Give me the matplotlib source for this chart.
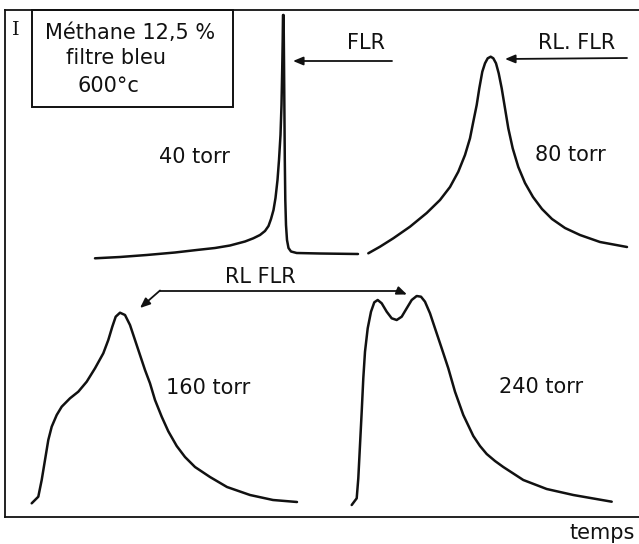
import matplotlib
matplotlib.use("Agg")
import matplotlib.pyplot as plt
from matplotlib.patches import Rectangle

W, H = 639, 544
DPI = 100

# ---- traced emission profiles (time in arbitrary units, signal in arbitrary units) ----
t_40 = [5, 30, 56.7, 85, 106.7, 125, 140, 155, 163.3, 170, 175, 178.5, 181, 183.5,
        185.5, 187.5, 189, 190.5, 191.5, 192.2, 192.7, 193,
        193.6, 194, 194.4, 194.8, 195.3, 196, 197, 198.5, 201, 206.7, 230, 268]
s_40 = [3.7, 5, 7, 9.5, 12, 14, 16.5, 20.5, 23.7, 27, 31, 36, 43, 52,
        64, 82, 102, 127, 157, 192, 222, 247,
        247, 202, 152, 102, 62, 37, 22, 14, 10.5, 9, 8.5, 8]

t_80 = [3.3, 15, 28.3, 45, 61.7, 75, 85, 93.3, 100, 105, 108.3, 111.7, 114.3, 117.3,
        120, 122.7, 125.7, 128.3, 131, 133.7, 136.7, 140, 143.3, 147.7, 153.3, 160,
        168, 177, 187, 200, 215, 235, 262]
s_80 = [8.7, 15.3, 23.7, 35.3, 49, 62, 75, 90.3, 107, 123.7, 140.3, 157, 173.7,
        190.3, 198.7, 203.7, 205.3, 203.7, 198.7, 188.7, 173.7, 153.7, 133.7, 113.7,
        95, 79, 65, 53, 43, 34, 27, 20, 15]

t_160 = [6.7, 13.3, 16.7, 20, 23.3, 26.7, 31.7, 36.7, 45, 53.3, 61.7, 70, 78.3, 83.3,
         87.3, 90.7, 95, 100, 105, 110, 115, 120, 125, 130, 136.7, 143.3, 151.7,
         160, 170, 185, 202, 225, 248, 272]
s_160 = [8.7, 15.3, 32, 52, 72, 85.3, 97, 105.3, 113.7, 120.3, 130.3, 143.7, 158.7,
         172, 185.3, 195.3, 199.3, 197, 187, 172, 157, 142, 128.7, 112, 95.3, 80.7,
         66, 55, 45, 35, 25, 17, 12, 10]

t_240 = [11.7, 16.7, 18.3, 20, 21.7, 23.3, 25, 27.7, 31, 34.3, 37.7, 41.7, 46.7, 51.7,
         56.7, 61.7, 66.7, 71.7, 76.7, 81, 85, 90, 95, 101.7, 108.3, 115, 123.3,
         133.3, 140, 146.7, 155, 163.3, 183.3, 206.7, 233.3, 271.7]
s_240 = [7, 13.7, 33.7, 67, 100.3, 133.7, 160.3, 183.7, 200.3, 209.7, 212, 208.7,
         200.3, 193.7, 192, 195.3, 203.7, 212, 216, 215.3, 210.3, 198.7, 183.7, 163.7,
         143.7, 120.3, 97, 76, 66, 58, 51, 45, 32, 23, 17, 10.3]

pressures = ["40 torr", "80 torr", "160 torr", "240 torr"]

FONT = "DejaVu Sans"
INK = "#111111"

fig = plt.figure(figsize=(W / DPI, H / DPI), dpi=DPI)


def panel(left, top, width, height):
    """Axes placed in pixel units, 1 data unit = 1 pixel."""
    ax = fig.add_axes([left / W, 1 - (top + height) / H, width / W, height / H])
    ax.set_xlim(0, width)
    ax.set_ylim(0, height)
    ax.axis("off")
    return ax


panels = [
    (panel(90, 10, 275, 252), t_40, s_40),
    (panel(365, 10, 272, 252), t_80, s_80),
    (panel(25, 280, 290, 232), t_160, s_160),
    (panel(340, 280, 290, 232), t_240, s_240),
]
for ax, t, s in panels:
    ax.plot(t, s, color=INK, lw=1.8, solid_joinstyle="round", solid_capstyle="round")

# overlay for frame, labels and arrows (pixel coordinates, y downwards)
ov = fig.add_axes([0, 0, 1, 1], zorder=5)
ov.set_xlim(0, W)
ov.set_ylim(H, 0)
ov.axis("off")
ov.patch.set_alpha(0)

frame_kw = dict(color=INK, lw=1.3)
ov.plot([5, W], [10, 10], **frame_kw)
ov.plot([5, 5], [10, 517], **frame_kw)
ov.plot([5, W], [517, 517], **frame_kw)
ov.add_patch(Rectangle((32, 10), 201, 97, fill=False, ec=INK, lw=1.4))

txt = dict(color=INK, ha="center", va="center", family=FONT, fontsize=15)
ov.text(16, 30, "I", color=INK, ha="center", va="center", family="DejaVu Serif", fontsize=14)
ov.text(130, 33, "Méthane 12,5 %", **txt)
ov.text(116, 58, "filtre bleu", **txt)
ov.text(108, 86, "600°c", **txt)

ov.text(366, 43, "FLR", **txt)
ov.text(577, 43, "RL. FLR", **txt)
ov.text(260, 277, "RL FLR", **txt)
ov.text(602, 533, "temps", **txt)

label_pos = [(194, 157), (570, 155), (208, 388), (541, 387)]
for lab, (x, y) in zip(pressures, label_pos):
    ov.text(x, y, lab, **txt)

arrow = dict(arrowstyle="-|>,head_length=0.6,head_width=0.25", color=INK, lw=1.3,
             shrinkA=0, shrinkB=0)
ov.annotate("", xy=(293, 61), xytext=(392, 61), arrowprops=arrow)
ov.annotate("", xy=(505, 59), xytext=(627, 58), arrowprops=arrow)

# double-headed pointer between the two lower peaks
ov.plot([160, 397], [290.5, 290.5], color=INK, lw=1.3)
ov.annotate("", xy=(140, 308), xytext=(160, 290.5), arrowprops=arrow)
ov.annotate("", xy=(407, 294.5), xytext=(397, 290.5), arrowprops=arrow)

fig.savefig("out.png", dpi=DPI, facecolor="white")
